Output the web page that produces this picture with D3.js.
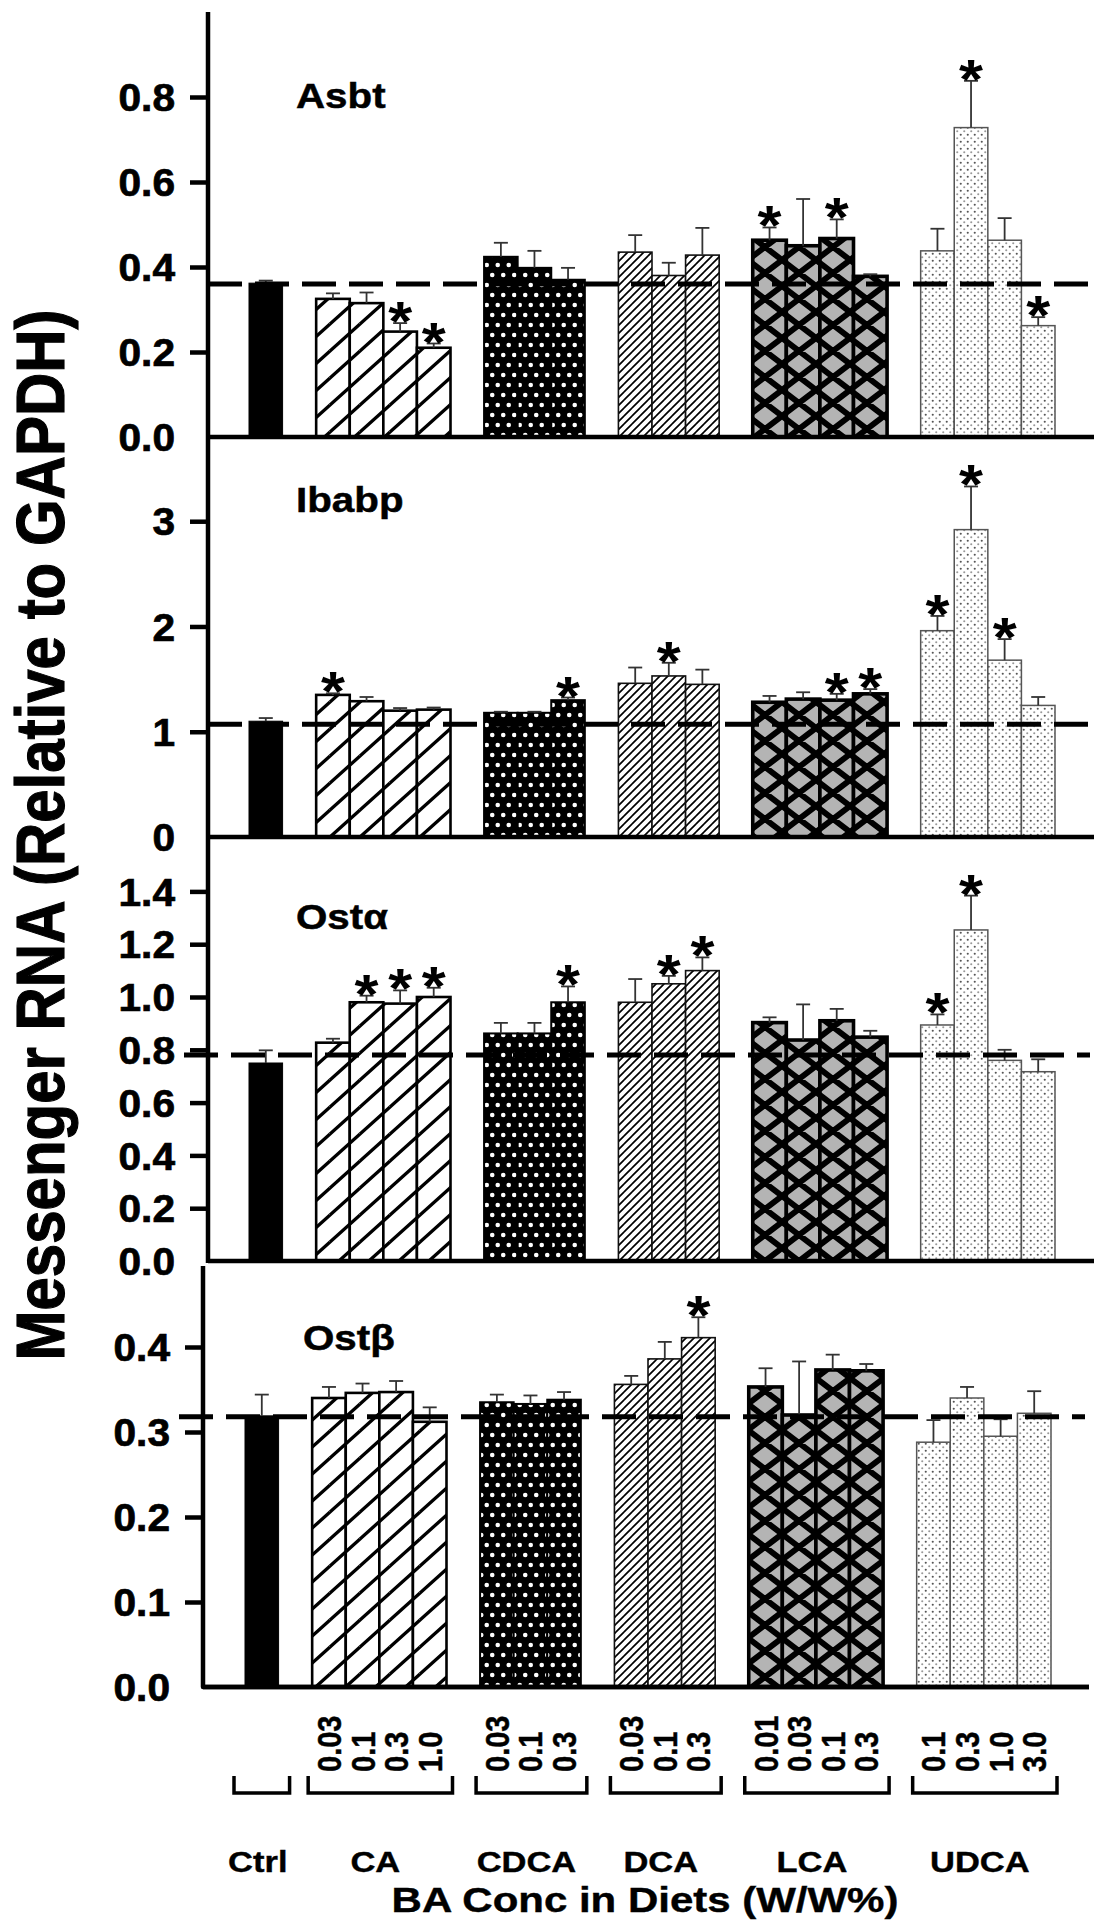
<!DOCTYPE html>
<html><head><meta charset="utf-8">
<script src="https://cdn.jsdelivr.net/npm/d3@7"></script>
<style>
html,body{margin:0;padding:0;background:#fff;}
svg{display:block;}
text{font-family:"Liberation Sans",Arial,Helvetica,sans-serif;font-weight:bold;fill:#000;}
</style></head><body>
<svg id="chart" width="1116" height="1920"></svg>
<script>
// ---------------- DATA ----------------
const groups = ["Ctrl", "CA", "CDCA", "DCA", "LCA", "UDCA"];
const concentrations = [[""], ["0.03","0.1","0.3","1.0"], ["0.03","0.1","0.3"], ["0.03","0.1","0.3"], ["0.01","0.03","0.1","0.3"], ["0.1","0.3","1.0","3.0"]];
const genes = ["Asbt", "Ibabp", "Ostα", "Ostβ"];

// order: Ctrl, CA x4, CDCA x3, DCA x3, LCA x4, UDCA x4
const asbtMean = [0.362, 0.325,0.315,0.248,0.21, 0.424,0.398,0.37, 0.435,0.38,0.428, 0.463,0.45,0.467,0.378, 0.438,0.728,0.463,0.262];
const asbtErr  = [0.006, 0.013,0.025,0.02,0.01, 0.033,0.04,0.028, 0.04,0.03,0.064, 0.03,0.11,0.045,0.005, 0.052,0.11,0.052,0.02];
const asbtSig  = [0, 0,0,1,1, 0,0,0, 0,0,0, 1,0,1,0, 0,1,0,1];

const ibabpMean = [1.1, 1.35,1.29,1.2,1.21, 1.18,1.18,1.3, 1.46,1.53,1.45, 1.28,1.31,1.3,1.36, 1.96,2.92,1.68,1.25];
const ibabpErr  = [0.03, 0.015,0.04,0.025,0.02, 0.01,0.01,0.025, 0.15,0.125,0.14, 0.06,0.065,0.06,0.045, 0.14,0.41,0.2,0.08];
const ibabpSig  = [0, 1,0,0,0, 0,0,1, 0,1,0, 0,0,1,1, 1,1,1,0];

const ostaMean = [0.75, 0.827,0.98,0.975,1.0, 0.862,0.862,0.98, 0.98,1.05,1.1, 0.903,0.837,0.91,0.848, 0.894,1.254,0.76,0.717];
const ostaErr  = [0.048, 0.015,0.025,0.05,0.035, 0.04,0.04,0.06, 0.088,0.03,0.05, 0.02,0.135,0.045,0.024, 0.04,0.13,0.04,0.047];
const ostaSig  = [0, 0,1,1,1, 0,0,1, 0,1,1, 0,0,0,0, 1,1,0,0];

const ostbMean = [0.319, 0.34,0.346,0.347,0.312, 0.335,0.333,0.338, 0.356,0.386,0.411, 0.353,0.32,0.373,0.372, 0.288,0.34,0.295,0.322];
const ostbErr  = [0.025, 0.013,0.011,0.013,0.017, 0.009,0.01,0.009, 0.01,0.02,0.024, 0.022,0.063,0.018,0.008, 0.026,0.013,0.02,0.026];
const ostbSig  = [0, 0,0,0,0, 0,0,0, 0,0,1, 0,0,0,0, 0,0,0,0];

const controlLevel = [0.36, 1.07, 0.78, 0.318];
const yMax = [1.0, 3.8, 1.6, 0.5];
const asbtTicks = [0, 0.2, 0.4, 0.6, 0.8];
const ibabpTicks = [0, 1, 2, 3];
const ostaTicks = [0, 0.2, 0.4, 0.6, 0.8, 1.0, 1.2, 1.4];
const ostbTicks = [0, 0.1, 0.2, 0.3, 0.4];
const tickFormats = [".1f", "d", ".1f", ".1f"];
const yTitle = "Messenger RNA (Relative to GAPDH)";
const xTitle = "BA Conc in Diets (W/W%)";

// ---------------- LAYOUT ----------------
const FONT = '"Liberation Sans",Arial,Helvetica,sans-serif';
const layout = [
  {top: 12,    bottom: 437,  axisX: 208, x0: 249, x1: 1055, end: 1094, dashStart: 208, titleX: 296, titleY: 108},
  {top: 437,   bottom: 837,  axisX: 208, x0: 249, x1: 1055, end: 1094, dashStart: 208, titleX: 296, titleY: 512},
  {top: 838.6, bottom: 1261, axisX: 208, x0: 249, x1: 1055, end: 1094, dashStart: 184, titleX: 296, titleY: 929},
  {top: 1262,  bottom: 1687, axisX: 203, x0: 245, x1: 1051, end: 1089, dashStart: 179, titleX: 303, titleY: 1350}
];
const geneMeans = [asbtMean, ibabpMean, ostaMean, ostbMean];
const geneErrs = [asbtErr, ibabpErr, ostaErr, ostbErr];
const geneSigs = [asbtSig, ibabpSig, ostaSig, ostbSig];
const geneTicks = [asbtTicks, ibabpTicks, ostaTicks, ostbTicks];

const xKeys = [];
groups.forEach((g, gi) => {
  if (gi > 0) xKeys.push("gap-" + g);
  concentrations[gi].forEach(c => xKeys.push(g + "|" + c));
});
const barKeys = xKeys.filter(k => !k.startsWith("gap-"));
const barGroup = barKeys.map(k => k.split("|")[0]);

const svg = d3.select("#chart");
const defs = svg.append("defs");

function hatch(id, w, h, dirs, sw, bg, color) {
  const p = defs.append("pattern").attr("id", id).attr("patternUnits", "userSpaceOnUse")
    .attr("width", w).attr("height", h);
  p.append("rect").attr("width", w).attr("height", h).attr("fill", bg);
  let d = "";
  for (const dx of [-w, 0, w]) for (const dy of [-h, 0, h]) {
    if (dirs.includes("/")) d += `M${dx},${dy + h}L${dx + w},${dy}`;
    if (dirs.includes("\\")) d += `M${dx},${dy}L${dx + w},${dy + h}`;
  }
  p.append("path").attr("d", d).attr("stroke", color).attr("stroke-width", sw).attr("fill", "none");
  return p;
}
hatch("pCA", 30, 27, "/", 3.3, "#fff", "#000");
hatch("pDCA", 8, 8, "/", 1.7, "#fff", "#000");
hatch("pLCA", 34, 26, "/\\", 5.8, "#b4b4b4", "#000");
{
  const p = defs.append("pattern").attr("id", "pCDCA").attr("patternUnits", "userSpaceOnUse")
    .attr("width", 11).attr("height", 20);
  p.append("rect").attr("width", 11).attr("height", 20).attr("fill", "#000");
  p.append("circle").attr("cx", 2.75).attr("cy", 5).attr("r", 2.3).attr("fill", "#fff");
  p.append("circle").attr("cx", 8.25).attr("cy", 15).attr("r", 2.3).attr("fill", "#fff");
}
{
  const p = defs.append("pattern").attr("id", "pUDCA").attr("patternUnits", "userSpaceOnUse")
    .attr("width", 7).attr("height", 7);
  p.append("rect").attr("width", 7).attr("height", 7).attr("fill", "#fff");
  p.append("circle").attr("cx", 1.75).attr("cy", 1.75).attr("r", 1.05).attr("fill", "#555");
  p.append("circle").attr("cx", 5.25).attr("cy", 5.25).attr("r", 1.05).attr("fill", "#999");
}
const fillBy = {Ctrl: "#000", CA: "url(#pCA)", CDCA: "url(#pCDCA)", DCA: "url(#pDCA)", LCA: "url(#pLCA)", UDCA: "url(#pUDCA)"};
const strokeBy = {Ctrl: "#000", CA: "#000", CDCA: "#000", DCA: "#111", LCA: "#000", UDCA: "#555"};
const swBy = {Ctrl: 1, CA: 2.6, CDCA: 2, DCA: 1.6, LCA: 3.6, UDCA: 1.5};

function heavy(sel, w) { return sel.attr("stroke", "#000").attr("stroke-width", w).attr("paint-order", "stroke"); }

let bottomX = null;
genes.forEach((gene, pi) => {
  const L = layout[pi];
  const x = d3.scaleBand().domain(xKeys).range([L.x0, L.x1]).paddingInner(0).paddingOuter(0);
  const y = d3.scaleLinear().domain([0, yMax[pi]]).range([L.bottom, L.top]);
  if (pi === 3) bottomX = x;
  const means = geneMeans[pi], errs = geneErrs[pi], sig = geneSigs[pi];
  const data = barKeys.map((k, i) => ({key: k, group: barGroup[i], m: means[i], e: errs[i], s: sig[i]}));
  const g = svg.append("g");
  const bw = x.bandwidth();

  // bars
  g.selectAll("rect.bar").data(data).join("rect").attr("class", "bar")
    .attr("x", d => x(d.key)).attr("width", bw)
    .attr("y", d => y(d.m)).attr("height", d => y(0) - y(d.m))
    .attr("fill", d => fillBy[d.group]).attr("stroke", d => strokeBy[d.group])
    .attr("stroke-width", d => swBy[d.group]);

  // error bars (upper only)
  const eg = g.selectAll("g.err").data(data).join("g").attr("class", "err")
    .attr("stroke", "#333").attr("stroke-width", 1.8);
  eg.append("line").attr("x1", d => x(d.key) + bw / 2).attr("x2", d => x(d.key) + bw / 2)
    .attr("y1", d => y(d.m)).attr("y2", d => y(d.m + d.e));
  eg.append("line").attr("x1", d => x(d.key) + bw / 2 - 7).attr("x2", d => x(d.key) + bw / 2 + 7)
    .attr("y1", d => y(d.m + d.e)).attr("y2", d => y(d.m + d.e));

  // control reference dashed line
  g.append("line").attr("x1", L.dashStart).attr("x2", L.end - 4)
    .attr("y1", y(controlLevel[pi])).attr("y2", y(controlLevel[pi]))
    .attr("stroke", "#000").attr("stroke-width", 5).attr("stroke-dasharray", "34,13");

  // significance stars
  g.selectAll("text.star").data(data.filter(d => d.s)).join("text").attr("class", "star")
    .attr("text-anchor", "middle").attr("font-size", 56)
    .attr("transform", d => `translate(${x(d.key) + bw / 2},${y(d.m + d.e) + 17}) scale(1.1,1)`)
    .text("*");

  // baseline
  g.append("line").attr("x1", L.axisX).attr("x2", L.end).attr("y1", L.bottom).attr("y2", L.bottom)
    .attr("stroke", "#000").attr("stroke-width", 4.5);
  if (pi === 3) {
    g.append("path").attr("d", `M${L.axisX},${L.top + 4}V${L.bottom}H${L.end}`)
      .attr("fill", "none").attr("stroke", "#000").attr("stroke-width", 4.5).attr("stroke-linejoin", "round");
  }

  // y axis ticks and labels
  const SXT = 1.07;
  const ax = g.append("g").attr("transform", `translate(${L.axisX},0)`)
    .call(d3.axisLeft(y).tickValues(geneTicks[pi]).tickSize(18).tickPadding(14).tickFormat(d3.format(tickFormats[pi])));
  ax.attr("font-size", 38).attr("font-family", FONT);
  ax.select(".domain").remove();
  ax.selectAll(".tick line").attr("stroke", "#000").attr("stroke-width", 4.5)
    .attr("display", d => d === 0 ? "none" : null);
  heavy(ax.selectAll(".tick text").attr("fill", "#000").attr("font-weight", "bold")
    .attr("x", -33 / SXT).attr("dy", "0.36em").attr("transform", `scale(${SXT},1)`), 0.7);

  // gene title
  heavy(g.append("text").attr("transform", `translate(${L.titleX},${L.titleY}) scale(1.12,1)`)
    .attr("font-size", 36).text(gene), 0.5);
});

// continuous y axis for upper three panels
svg.append("line").attr("x1", 208).attr("x2", 208).attr("y1", 12).attr("y2", 1263)
  .attr("stroke", "#000").attr("stroke-width", 4.5);

// x category labels (concentrations), brackets and group names
const bx = bottomX, bbw = bx.bandwidth();
heavy(svg.append("g").selectAll("text.conc").data(barKeys.filter(k => k.split("|")[1] !== "")).join("text")
  .attr("class", "conc").attr("font-size", 29).attr("text-anchor", "start").attr("dy", "0.36em")
  .attr("transform", k => `translate(${bx(k) + bbw / 2},1772) scale(1.15,1) rotate(-90)`)
  .text(k => k.split("|")[1]), 0.4);

groups.forEach((gname, gi) => {
  const keys = concentrations[gi].map(c => gname + "|" + c);
  const xs = bx(keys[0]), xe = bx(keys[keys.length - 1]) + bbw;
  const padL = gi === 0 ? 11 : 4, padR = gi === 0 ? 11 : 6;
  svg.append("path").attr("d", `M${xs - padL},1776V1793H${xe + padR}V1776`)
    .attr("fill", "none").attr("stroke", "#000").attr("stroke-width", 3.5);
  heavy(svg.append("text").attr("text-anchor", "middle").attr("font-size", 30)
    .attr("transform", `translate(${(xs + xe) / 2 - 4},1872) scale(1.15,1)`).text(gname), 0.4);
});

heavy(svg.append("text").attr("text-anchor", "middle").attr("font-size", 35)
  .attr("transform", `translate(645,1912) scale(1.2,1)`).text(xTitle), 0.4);

heavy(svg.append("text").attr("text-anchor", "middle").attr("font-size", 60)
  .attr("transform", `translate(64,835) scale(1.15,1) rotate(-90)`).text(yTitle), 1);
</script>
</body></html>
